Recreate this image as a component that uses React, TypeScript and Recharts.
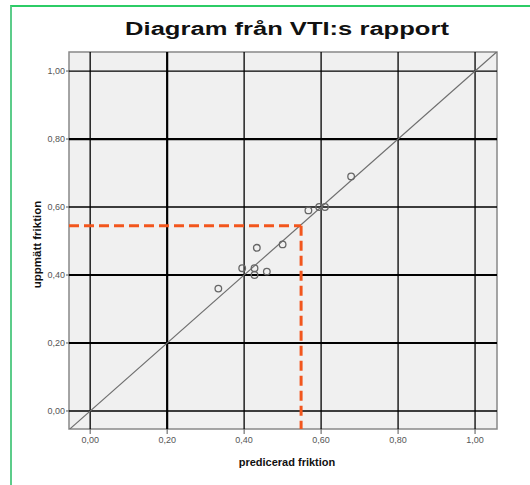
import React from 'react';
import {
  ScatterChart,
  Scatter,
  XAxis,
  YAxis,
  ReferenceLine,
  ReferenceArea,
  Label,
} from 'recharts';

const predicted = [0.333, 0.395, 0.427, 0.427, 0.459, 0.433, 0.5, 0.567, 0.595, 0.61, 0.678];
const measured = [0.36, 0.42, 0.42, 0.4, 0.41, 0.48, 0.49, 0.59, 0.6, 0.6, 0.69];
const ticks = [0, 0.2, 0.4, 0.6, 0.8, 1.0];
const xDomain: [number, number] = [-0.055, 1.057];
const yDomain: [number, number] = [-0.053, 1.056];
const markerX = 0.548;
const markerY = 0.545;

const points = predicted.map((x, i) => ({ x, y: measured[i] }));

const fmt = (v: number) => v.toFixed(2).replace('.', ',');

// a few grid lines look heavier in the original
const thickX = [0.2];
const thickY = [0.2, 0.4, 0.8];

const tickStyle = { fontSize: 9, fill: '#555', fontFamily: 'Liberation Sans, Arial, sans-serif' };
const labelStyle = { fontSize: 11, fontWeight: 'bold', fill: '#111', fontFamily: 'Liberation Sans, Arial, sans-serif' };

export default function App() {
  return (
    <div style={{ position: 'absolute', left: 0, top: 0, width: 530, height: 485, background: '#fff' }}>
      <div
        style={{
          position: 'absolute',
          left: 10,
          top: 5,
          width: 520,
          height: 480,
          borderLeft: '2px solid #5ccc8a',
          borderTop: '2px solid #2ccc66',
        }}
      />
      <div
        style={{
          position: 'absolute',
          left: 0,
          top: 19,
          width: 574,
          lineHeight: '20px',
          textAlign: 'center',
          fontFamily: 'Liberation Sans, Arial, sans-serif',
          fontWeight: 'bold',
          fontSize: 18,
          color: '#111',
          transform: 'scaleX(1.42)',
          transformOrigin: '287px 0',
          whiteSpace: 'nowrap',
        }}
      >
        Diagram från VTI:s rapport
      </div>
      <ScatterChart
        width={530}
        height={485}
        margin={{ top: 52, right: 33, bottom: 0, left: 0 }}
        style={{ position: 'absolute', left: 0, top: 0 }}
      >
        <XAxis
          type="number"
          dataKey="x"
          domain={xDomain}
          ticks={ticks}
          allowDataOverflow
          tickFormatter={fmt}
          tick={tickStyle}
          axisLine={false}
          tickLine={{ stroke: '#555' }}
          tickSize={5}
          tickMargin={3}
          height={56}
        >
          <Label value="predicerad friktion" position="center" dx={4} dy={5} style={labelStyle} />
        </XAxis>
        <YAxis
          type="number"
          dataKey="y"
          domain={yDomain}
          ticks={ticks}
          allowDataOverflow
          tickFormatter={fmt}
          tick={tickStyle}
          axisLine={false}
          tickLine={{ stroke: '#555' }}
          tickSize={3}
          tickMargin={1}
          width={69}
        >
          <Label
            value="uppmätt friktion"
            angle={-90}
            position="center"
            dx={2}
            dy={4}
            style={{ ...labelStyle, fontSize: 11.5, textAnchor: 'middle' }}
          />
        </YAxis>
        <ReferenceArea
          x1={xDomain[0]}
          x2={xDomain[1]}
          y1={yDomain[0]}
          y2={yDomain[1]}
          fill="#f0f0f0"
          fillOpacity={1}
          stroke="#888"
          strokeWidth={1.5}
          ifOverflow="visible"
        />
        {ticks.map((t) => (
          <ReferenceLine key={'v' + t} x={t} stroke="#000" strokeWidth={thickX.includes(t) ? 2.2 : 1.3} />
        ))}
        {ticks.map((t) => (
          <ReferenceLine key={'h' + t} y={t} stroke="#000" strokeWidth={thickY.includes(t) ? 2.2 : 1.3} />
        ))}
        <ReferenceLine
          segment={[
            { x: xDomain[0], y: xDomain[0] },
            { x: xDomain[1], y: xDomain[1] },
          ]}
          stroke="#6e6e6e"
          strokeWidth={1.2}
          ifOverflow="hidden"
        />
        <ReferenceLine
          segment={[
            { x: xDomain[0], y: markerY },
            { x: markerX, y: markerY },
          ]}
          stroke="#f2561d"
          strokeWidth={3}
          strokeDasharray="10 5"
        />
        <ReferenceLine
          segment={[
            { x: markerX, y: markerY },
            { x: markerX, y: yDomain[0] },
          ]}
          stroke="#f2561d"
          strokeWidth={3}
          strokeDasharray="10 5"
        />
        <Scatter
          data={points}
          isAnimationActive={false}
          shape={(p: any) => (
            <circle cx={p.cx} cy={p.cy} r={3.3} fill="none" stroke="#666" strokeWidth={1.3} />
          )}
        />
      </ScatterChart>
    </div>
  );
}
